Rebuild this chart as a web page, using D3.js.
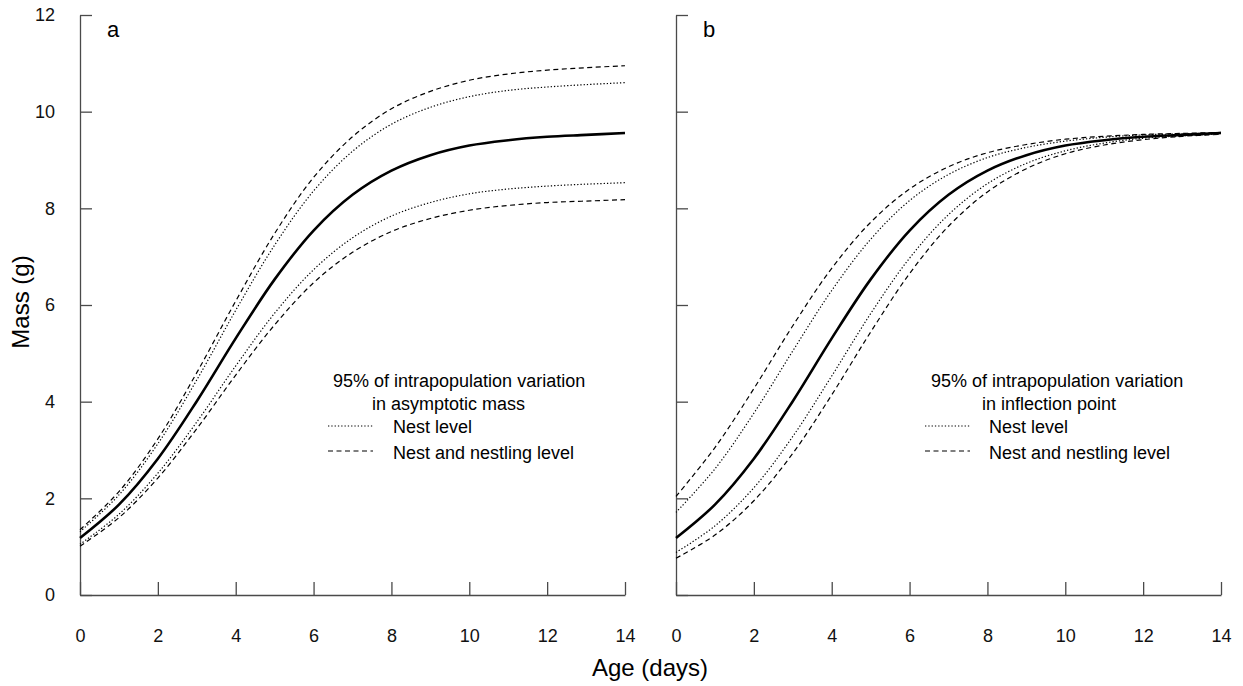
<!DOCTYPE html>
<html>
<head>
<meta charset="utf-8">
<script src="https://cdn.jsdelivr.net/npm/d3@7"></script>
<style>
  body { margin: 0; background: #fff; }
  svg { font-family: "Liberation Sans", Arial, Helvetica, sans-serif; }
  .axis path, .axis line { stroke: #4a4a4a; stroke-width: 1.3px; }
  .axis text { font-size: 18px; fill: #111; }
</style>
</head>
<body>
<div id="chart"></div>
<script>
/*  Data  */
var ages = [0,1,2,3,4,5,6,7,8,9,10,11,12,13,14];
var xTicks = [0,2,4,6,8,10,12,14];
var yTicks = [0,2,4,6,8,10,12];

// mean growth curve (same in both panels)
var massMean = [1.18,1.87,2.82,4.01,5.31,6.53,7.54,8.28,8.78,9.10,9.30,9.41,9.48,9.52,9.56];

// panel a: variation in asymptotic mass
var asymNestHi     = [1.31,2.07,3.13,4.45,5.89,7.24,8.36,9.18,9.74,10.09,10.31,10.44,10.51,10.56,10.60];
var asymNestLo     = [1.05,1.67,2.52,3.58,4.74,5.83,6.73,7.39,7.84,8.12,8.30,8.40,8.46,8.50,8.53];
var asymNestlingHi = [1.35,2.14,3.23,4.60,6.08,7.48,8.64,9.48,10.06,10.42,10.65,10.78,10.86,10.91,10.95];
var asymNestlingLo = [1.01,1.60,2.42,3.44,4.55,5.59,6.46,7.09,7.52,7.79,7.96,8.06,8.12,8.15,8.18];

// panel b: variation in inflection point
var inflNestHi     = [1.71,2.61,3.76,5.05,6.30,7.36,8.16,8.70,9.05,9.26,9.39,9.47,9.52,9.54,9.56];
var inflNestLo     = [0.88,1.43,2.22,3.28,4.53,5.82,6.97,7.87,8.51,8.93,9.19,9.35,9.45,9.50,9.54];
var inflNestlingHi = [2.04,3.05,4.27,5.57,6.76,7.71,8.40,8.86,9.15,9.32,9.43,9.49,9.53,9.55,9.57];
var inflNestlingLo = [0.76,1.24,1.95,2.93,4.14,5.44,6.65,7.63,8.34,8.82,9.13,9.31,9.42,9.49,9.53];

var legendTitlesA = ["95% of intrapopulation variation", "in asymptotic mass"];
var legendTitlesB = ["95% of intrapopulation variation", "in inflection point"];
var legendLabels = ["Nest level", "Nest and nestling level"];

/*  Styles  */
var DOTTED = "1.3,2";
var DASHED = "5,3.5";

var W = 1243, H = 686;
var svg = d3.select("#chart").append("svg")
  .attr("width", W).attr("height", H);

var y = d3.scaleLinear().domain([0, 12]).range([595, 15]);

function drawPanel(opt)
{
  var x = d3.scaleLinear().domain([0, 14]).range([opt.x0, opt.x1]);
  var g = svg.append("g");

  // y axis, ticks pointing inward
  var yAxis = d3.axisLeft(y).tickValues(yTicks).tickSizeInner(-12).tickSizeOuter(0)
    .tickPadding(opt.yLabels ? 25 : 0);
  if (!opt.yLabels) yAxis.tickFormat("");
  g.append("g").attr("class", "axis")
    .attr("transform", "translate(" + opt.x0 + ",0)")
    .call(yAxis);

  // x axis, ticks pointing inward
  g.append("g").attr("class", "axis")
    .attr("transform", "translate(0,595)")
    .call(d3.axisBottom(x).tickValues(xTicks).tickSizeInner(-13).tickSizeOuter(0).tickPadding(34));

  var line = d3.line()
    .x(function(d, i){ return x(ages[i]); })
    .y(function(d){ return y(d); })
    .curve(d3.curveCatmullRom);

  opt.series.forEach(function(s){
    g.append("path")
      .attr("d", line(s.values))
      .attr("fill", "none")
      .attr("stroke", "#000")
      .attr("stroke-width", s.width)
      .attr("stroke-dasharray", s.dash);
  });

  // panel letter
  g.append("text").attr("x", opt.x0 + 27).attr("y", 37)
    .style("font-size", "22px").text(opt.letter);

  // legend
  g.append("text").attr("x", opt.legX).attr("y", 387)
    .style("font-size", "18px").text(opt.titles[0]);
  g.append("text").attr("x", opt.legX2).attr("y", 410)
    .style("font-size", "18px").text(opt.titles[1]);

  var dashes = [DOTTED, DASHED];
  var rowY = [426, 451];
  var rowText = [433, 459];
  legendLabels.forEach(function(lab, i){
    g.append("line")
      .attr("x1", opt.sampleX).attr("x2", opt.sampleX + 45)
      .attr("y1", rowY[i]).attr("y2", rowY[i])
      .attr("stroke", "#000").attr("stroke-width", 1.2)
      .attr("stroke-dasharray", dashes[i]);
    g.append("text").attr("x", opt.labelX).attr("y", rowText[i])
      .style("font-size", "18px").text(lab);
  });
}

drawPanel({
  x0: 80, x1: 625, yLabels: true, letter: "a",
  titles: legendTitlesA, legX: 333, legX2: 372, sampleX: 328, labelX: 393,
  series: [
    { values: asymNestlingHi, dash: DASHED, width: 1.2 },
    { values: asymNestHi,     dash: DOTTED, width: 1.2 },
    { values: massMean,       dash: null,   width: 2.6 },
    { values: asymNestLo,     dash: DOTTED, width: 1.2 },
    { values: asymNestlingLo, dash: DASHED, width: 1.2 }
  ]
});

drawPanel({
  x0: 676, x1: 1221, yLabels: false, letter: "b",
  titles: legendTitlesB, legX: 931, legX2: 982, sampleX: 925, labelX: 989,
  series: [
    { values: inflNestlingHi, dash: DASHED, width: 1.2 },
    { values: inflNestHi,     dash: DOTTED, width: 1.2 },
    { values: massMean,       dash: null,   width: 2.6 },
    { values: inflNestLo,     dash: DOTTED, width: 1.2 },
    { values: inflNestlingLo, dash: DASHED, width: 1.2 }
  ]
});

// axis titles
svg.append("text")
  .attr("x", 650).attr("y", 676)
  .attr("text-anchor", "middle")
  .style("font-size", "24px")
  .text("Age (days)");

svg.append("text")
  .attr("transform", "translate(29,302) rotate(-90)")
  .attr("text-anchor", "middle")
  .style("font-size", "24px")
  .text("Mass (g)");
</script>
</body>
</html>
